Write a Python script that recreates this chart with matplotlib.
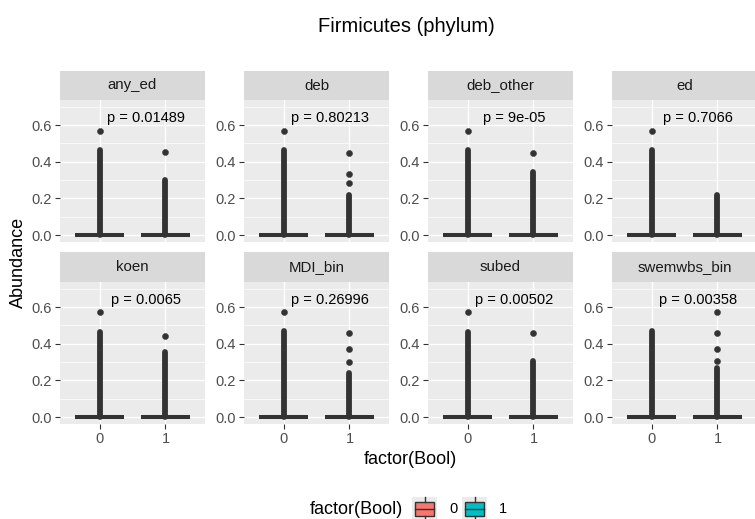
import matplotlib
matplotlib.use("Agg")
import matplotlib.pyplot as plt
from matplotlib.patches import Rectangle

plt.rcParams['font.family'] = ['Liberation Sans', 'DejaVu Sans']

facets = ["any_ed", "deb", "deb_other", "ed", "koen", "MDI_bin", "subed", "swemwbs_bin"]
p_labels = ["p = 0.01489", "p = 0.80213", "p = 9e-05", "p = 0.7066",
            "p = 0.0065", "p = 0.26996", "p = 0.00502", "p = 0.00358"]
groups = ["0", "1"]
group_colors = ["#F8766D", "#00BFC4"]

# box stats (all collapse to zero)
median = [[0.0, 0.0]] * 8
# top of the densely packed outlier column, per group
dense_top_0 = [0.465, 0.465, 0.465, 0.465, 0.465, 0.47, 0.464, 0.47]
dense_top_1 = [0.30, 0.218, 0.344, 0.218, 0.355, 0.24, 0.306, 0.267]
# isolated outliers above the dense column
sparse_0 = [[0.569], [0.567], [0.569], [0.569], [0.573], [0.573], [0.573], []]
sparse_1 = [[0.453], [0.447, 0.333, 0.284], [0.447], [], [0.442],
            [0.458, 0.371, 0.30], [0.458], [0.573, 0.458, 0.371, 0.306]]

W, H = 755, 519
fig = plt.figure(figsize=(W / 100, H / 100), dpi=100)


def rect(x0, y0, w, h):
    return [x0 / W, 1 - (y0 + h) / H, w / W, h / H]


lefts = [60, 244, 428, 612]
pw = 145
rows = [(71, 100, 142), (252, 282, 142)]  # strip top, panel top, panel height
dark = "#333333"

for i, name in enumerate(facets):
    r, c = divmod(i, 4)
    st, pt, ph = rows[r]
    ax = fig.add_axes(rect(lefts[c], pt, pw, ph))
    ax.set_facecolor("#EBEBEB")
    ax.set_xlim(0.4, 2.6)
    ax.set_ylim(-0.038, 0.7365)
    for s in ax.spines.values():
        s.set_visible(False)
    for y in [0.1, 0.3, 0.5, 0.7]:
        ax.axhline(y, color="white", lw=0.5, zorder=0)
    for y in [0.0, 0.2, 0.4, 0.6]:
        ax.axhline(y, color="white", lw=1.0, zorder=0)
    for x in [1, 2]:
        ax.axvline(x, color="white", lw=1.0, zorder=0)

    tops = [dense_top_0[i], dense_top_1[i]]
    fl = [sparse_0[i], sparse_1[i]]
    stats = []
    for g in range(2):
        m = median[i][g]
        stats.append(dict(med=m, q1=m, q3=m, whislo=m, whishi=m, fliers=fl[g]))
    bp = ax.bxp(stats, positions=[1, 2], widths=0.75, patch_artist=True,
                showcaps=False,
                boxprops=dict(edgecolor=dark, linewidth=1.4),
                medianprops=dict(color=dark, linewidth=2.9, solid_capstyle="butt"),
                whiskerprops=dict(color=dark, linewidth=1.4),
                flierprops=dict(marker="o", markersize=4.4, markerfacecolor=dark,
                                markeredgecolor=dark, markeredgewidth=0.3))
    for patch, col in zip(bp["boxes"], group_colors):
        patch.set_facecolor(col)
    for g in range(2):
        ax.plot([g + 1, g + 1], [0, tops[g]], color=dark, lw=4.2,
                solid_capstyle="round", zorder=3)

    ax.text(1.71, 0.64, p_labels[i], ha="center", va="center", fontsize=10.5, color="black")

    ax.set_yticks([0.0, 0.2, 0.4, 0.6])
    ax.set_yticklabels(["0.0", "0.2", "0.4", "0.6"])
    ax.set_xticks([1, 2])
    ax.tick_params(axis="both", direction="out", length=3.5, width=0.8, color=dark,
                   labelcolor="#4D4D4D", labelsize=10.5, pad=2.5)
    if r == 0:
        ax.tick_params(axis="x", length=0, labelbottom=False)
    else:
        ax.set_xticklabels(groups)

    sax = fig.add_axes(rect(lefts[c], st, pw, pt - st))
    sax.set_facecolor("#D9D9D9")
    sax.set_xticks([])
    sax.set_yticks([])
    for s in sax.spines.values():
        s.set_visible(False)
    sax.text(0.5, 0.5, name, ha="center", va="center", fontsize=10.8, color="#1A1A1A",
             transform=sax.transAxes)

# overlay for titles and legend, in pixel coordinates
ov = fig.add_axes([0, 0, 1, 1], zorder=-1)
ov.set_xlim(0, W)
ov.set_ylim(H, 0)
ov.axis("off")

ov.text(406, 27, "Firmicutes (phylum)", ha="center", va="center", fontsize=14.5, color="black")
ov.text(410, 459, "factor(Bool)", ha="center", va="center", fontsize=13, color="black")
ov.text(18, 262, "Abundance", ha="center", va="center", rotation=90, fontsize=13, color="black")

ov.text(310, 509, "factor(Bool)", ha="left", va="center", fontsize=13, color="black")
key_x = [412, 462]
for g in range(2):
    kx = key_x[g]
    ov.add_patch(Rectangle((kx, 497), 25, 25, facecolor="#EBEBEB", edgecolor="none"))
    ov.add_patch(Rectangle((kx + 3, 502), 19, 14, facecolor=group_colors[g],
                           edgecolor=dark, lw=1.0))
    ov.plot([kx + 3, kx + 22], [509, 509], color=dark, lw=1.0)
    ov.plot([kx + 12.5, kx + 12.5], [497, 502], color=dark, lw=1.0)
    ov.plot([kx + 12.5, kx + 12.5], [516, 522], color=dark, lw=1.0)
    ov.text(kx + 37, 509, groups[g], ha="left", va="center", fontsize=10.5, color="black")

fig.savefig("out.png", dpi=100)
